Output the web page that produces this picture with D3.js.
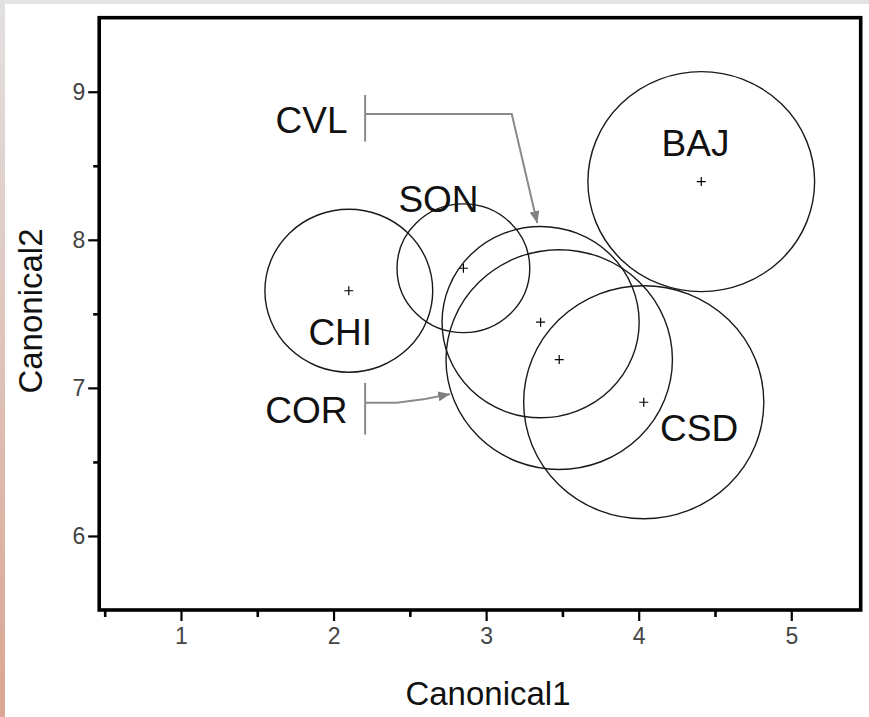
<!DOCTYPE html>
<html>
<head>
<meta charset="utf-8">
<script src="https://cdn.jsdelivr.net/npm/d3@7"></script>
<style>
body { margin: 0; background: #fff; }
svg { display: block; }
</style>
</head>
<body>
<svg id="chart" width="869" height="717"></svg>
<script>
// group centroids and confidence radii (canonical units)
var groups  = ["CHI", "SON", "CVL", "COR", "CSD", "BAJ"];
var centerX = [2.10, 2.851, 3.357, 3.479, 4.033, 4.410];
var centerY = [7.656, 7.808, 7.444, 7.191, 6.903, 8.393];
var radius  = [0.55, 0.435, 0.646, 0.742, 0.787, 0.743];

// label anchors (text start, baseline)
var labelX = [1.835, 2.425, 1.620, 1.552, 4.140, 4.150];
var labelY = [7.287, 8.191, 8.722, 6.764, 6.640, 8.566];

// callouts for the two labels placed outside their circles
var calloutBarX = 2.207;
var cvlBar  = [8.978, 8.663];
var cvlPath = [[2.207, 8.850], [3.168, 8.850], [3.335, 8.113]];
var corBar  = [7.034, 6.685];
var corPath = [[2.207, 6.899], [2.414, 6.899], [2.60, 6.925], [2.764, 6.958]];

var xMajor = [1, 2, 3, 4, 5];
var xMinor = [0.5, 1.5, 2.5, 3.5, 4.5];
var yMajor = [6, 7, 8, 9];
var yMinor = [6.5, 7.5, 8.5];

(function() {
var svg = d3.select("#chart");
var W = 869, H = 717;
var pLeft = 99.2, pRight = 860.7, pTop = 17.7, pBottom = 610;

// page decoration: grey top strip and tinted left strip
var defs = svg.append("defs");
var grad = defs.append("linearGradient")
    .attr("id", "edge").attr("x1", 0).attr("y1", 0).attr("x2", 0).attr("y2", 1);
grad.append("stop").attr("offset", "0%").attr("stop-color", "#e2e0e0");
grad.append("stop").attr("offset", "100%").attr("stop-color", "#dba592");
svg.append("rect").attr("x", 0).attr("y", 0).attr("width", W).attr("height", H).attr("fill", "#fff");
svg.append("rect").attr("x", 0).attr("y", 0).attr("width", W).attr("height", 4).attr("fill", "#e3e3e3");
svg.append("rect").attr("x", 0).attr("y", 0).attr("width", 5).attr("height", H).attr("fill", "url(#edge)");

var x = d3.scaleLinear().domain([0.464, 5.455]).range([pLeft, pRight]);
var y = d3.scaleLinear().domain([5.5, 9.5]).range([pBottom, pTop]);

// axes
function styleAxis(g, w) {
    g.select(".domain").remove();
    g.selectAll(".tick line").attr("stroke", "#000").attr("stroke-width", w);
    g.selectAll(".tick text")
        .style("font-family", "Liberation Sans, Arial, sans-serif")
        .style("font-size", "23px")
        .style("fill", "#444");
}

svg.append("g")
    .attr("transform", "translate(0," + pBottom + ")")
    .call(d3.axisBottom(x).tickValues(xMajor).tickSize(11).tickPadding(7).tickFormat(d3.format("d")))
    .call(function(g) { styleAxis(g, 2.2); });

svg.append("g")
    .attr("transform", "translate(0," + pBottom + ")")
    .call(d3.axisBottom(x).tickValues(xMinor).tickSize(7).tickFormat(""))
    .call(function(g) { styleAxis(g, 2.6); });

svg.append("g")
    .attr("transform", "translate(" + pLeft + ",0)")
    .call(d3.axisLeft(y).tickValues(yMajor).tickSize(11).tickPadding(3).tickFormat(d3.format("d")))
    .call(function(g) { styleAxis(g, 2.2); });

svg.append("g")
    .attr("transform", "translate(" + pLeft + ",0)")
    .call(d3.axisLeft(y).tickValues(yMinor).tickSize(6).tickFormat(""))
    .call(function(g) { styleAxis(g, 2.6); });

// frame
svg.append("rect")
    .attr("x", pLeft).attr("y", pTop)
    .attr("width", pRight - pLeft).attr("height", pBottom - pTop)
    .attr("fill", "none").attr("stroke", "#000").attr("stroke-width", 3.6);

// circles
var plot = svg.append("g");
groups.forEach(function(gname, i) {
    var cx = x(centerX[i]), cy = y(centerY[i]);
    plot.append("ellipse")
        .attr("cx", cx).attr("cy", cy)
        .attr("rx", x(centerX[i] + radius[i]) - cx)
        .attr("ry", cy - y(centerY[i] + radius[i]))
        .attr("fill", "none").attr("stroke", "#1a1a1a").attr("stroke-width", 1.4);
    plot.append("path")
        .attr("d", "M" + (cx - 4.5) + "," + cy + "h9M" + cx + "," + (cy - 4.5) + "v9")
        .attr("stroke", "#000").attr("stroke-width", 1.2);
});

// labels
groups.forEach(function(gname, i) {
    svg.append("text")
        .attr("x", x(labelX[i])).attr("y", y(labelY[i]))
        .attr("font-family", "Liberation Sans, Arial, sans-serif")
        .attr("font-size", 37)
        .attr("fill", "#111")
        .text(gname);
});

// callouts
defs.append("marker")
    .attr("id", "arrow")
    .attr("markerUnits", "userSpaceOnUse")
    .attr("viewBox", "0 0 12 10")
    .attr("refX", 12).attr("refY", 5)
    .attr("markerWidth", 12).attr("markerHeight", 10)
    .attr("orient", "auto")
    .append("path").attr("d", "M0,0L12,5L0,10Z").attr("fill", "#808080");

var line = d3.line().x(function(d) { return x(d[0]); }).y(function(d) { return y(d[1]); });

[[cvlBar, cvlPath], [corBar, corPath]].forEach(function(c) {
    svg.append("line")
        .attr("x1", x(calloutBarX)).attr("x2", x(calloutBarX))
        .attr("y1", y(c[0][0])).attr("y2", y(c[0][1]))
        .attr("stroke", "#8a8a8a").attr("stroke-width", 2);
    svg.append("path")
        .attr("d", line(c[1]))
        .attr("fill", "none").attr("stroke", "#8a8a8a").attr("stroke-width", 2)
        .attr("marker-end", "url(#arrow)");
});

// axis titles
svg.append("text")
    .attr("x", 488).attr("y", 705)
    .attr("text-anchor", "middle")
    .attr("font-family", "Liberation Sans, Arial, sans-serif")
    .attr("font-size", 33).attr("fill", "#111")
    .text("Canonical1");

svg.append("text")
    .attr("transform", "translate(42,311) rotate(-90)")
    .attr("text-anchor", "middle")
    .attr("font-family", "Liberation Sans, Arial, sans-serif")
    .attr("font-size", 33).attr("fill", "#111")
    .text("Canonical2");
})();
</script>
</body>
</html>
